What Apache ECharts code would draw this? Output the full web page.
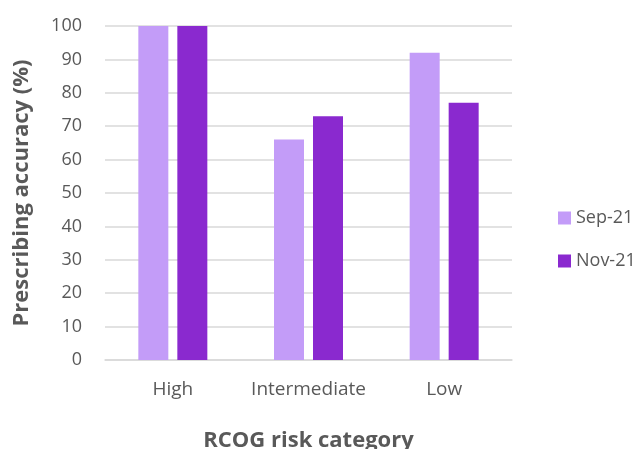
<!DOCTYPE html>
<html>
<head>
<meta charset="utf-8">
<script src="https://cdn.jsdelivr.net/npm/echarts@6/dist/echarts.min.js"></script>
<style>
  html, body { margin: 0; padding: 0; background: #fff; }
  #chart { width: 639px; height: 449px; }
</style>
</head>
<body>
<div id="chart"></div>
<script>
// Prescribing accuracy by RCOG risk category
const categories = ['High', 'Intermediate', 'Low'];
const seriesNames = ['Sep-21', 'Nov-21'];
const sep21 = [100, 66, 92];
const nov21 = [100, 73, 77];
const yTicks = [0, 10, 20, 30, 40, 50, 60, 70, 80, 90, 100];

const colors = ['#C39CF8', '#8A29CF'];
const textColor = '#595959';
const font = '"Open Sans", sans-serif';

const chart = echarts.init(document.getElementById('chart'));
chart.setOption({
  animation: false,
  grid: { left: 105, right: 127, top: 26, bottom: 89, outerBoundsMode: 'none', containLabel: false },
  legend: {
    orient: 'vertical',
    left: 553,
    top: 204,
    itemWidth: 13,
    itemHeight: 13,
    itemGap: 25,
    icon: 'rect',
    textStyle: { color: textColor, fontSize: 18, fontFamily: font },
    data: seriesNames
  },
  xAxis: {
    type: 'category',
    data: categories,
    name: 'RCOG risk category',
    nameLocation: 'middle',
    nameGap: 70,
    nameTextStyle: { color: textColor, fontSize: 22, fontWeight: 'bold', fontFamily: font },
    axisLine: { lineStyle: { color: '#d9d9d9', width: 1.5 } },
    axisTick: { show: false },
    axisLabel: { color: textColor, fontSize: 19, margin: 20, interval: 0, fontFamily: font }
  },
  yAxis: {
    type: 'value',
    min: yTicks[0],
    max: yTicks[yTicks.length - 1],
    interval: 10,
    name: 'Prescribing accuracy (%)',
    nameLocation: 'middle',
    nameGap: 72,
    nameTextStyle: { color: textColor, fontSize: 22, fontWeight: 'bold', fontFamily: font },
    axisLine: { show: false },
    axisTick: { show: false },
    axisLabel: { color: textColor, fontSize: 18, margin: 23, fontFamily: font },
    splitLine: { lineStyle: { color: '#d9d9d9', width: 1.5 } }
  },
  series: [
    {
      name: seriesNames[0],
      type: 'bar',
      data: sep21,
      barWidth: 30,
      barGap: '30%',
      itemStyle: { color: colors[0] }
    },
    {
      name: seriesNames[1],
      type: 'bar',
      data: nov21,
      barWidth: 30,
      itemStyle: { color: colors[1] }
    }
  ]
});
</script>
</body>
</html>
